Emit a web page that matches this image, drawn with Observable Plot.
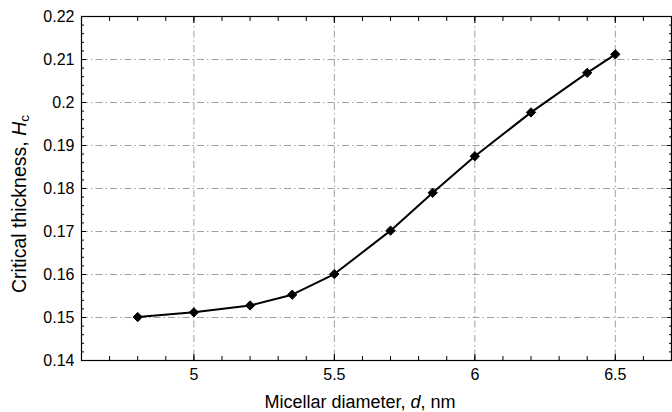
<!DOCTYPE html>
<html>
<head>
<meta charset="utf-8">
<script src="https://cdn.jsdelivr.net/npm/d3@7"></script>
<script src="https://cdn.jsdelivr.net/npm/@observablehq/plot@0.6"></script>
<style>
  html, body { margin: 0; padding: 0; background: #fff; }
  #chart svg { display: block; }
</style>
</head>
<body>
<div id="chart"></div>
<script>
const diameter = [4.8, 5.0, 5.2, 5.35, 5.5, 5.7, 5.85, 6.0, 6.2, 6.4, 6.5];
const thickness = [0.1501, 0.1512, 0.1528, 0.1553, 0.1601, 0.1702, 0.1790, 0.1875, 0.1977, 0.2069, 0.2112];
const xTicks = [5, 5.5, 6, 6.5];
const yTicks = [0.14, 0.15, 0.16, 0.17, 0.18, 0.19, 0.2, 0.21, 0.22];
const yTickLabels = ["0.14", "0.15", "0.16", "0.17", "0.18", "0.19", "0.2", "0.21", "0.22"];
const xMinor = d3.range(46, 68).map(v => v / 10);
const yMinor = d3.range(70, 111).map(v => v / 500);

const data = diameter.map((d, i) => ({d, h: thickness[i]}));
const font = "'Liberation Sans', Arial, sans-serif";
const gridDash = "7,3,1.5,3";

const plot = Plot.plot({
  width: 672,
  height: 412,
  marginLeft: 81,
  marginRight: 1,
  marginTop: 16,
  marginBottom: 52,
  style: {fontFamily: font, fontSize: "16px", color: "#000", background: "#fff"},
  x: {domain: [4.6, 6.7], label: null},
  y: {domain: [0.14, 0.22], label: null},
  marks: [
    Plot.ruleX(xTicks, {stroke: "#888", strokeWidth: 0.8, strokeDasharray: gridDash}),
    Plot.ruleY(yTicks.slice(1, -1), {stroke: "#888", strokeWidth: 0.8, strokeDasharray: gridDash}),
    Plot.axisX(xMinor, {anchor: "bottom", tickSize: -4, label: null, text: null, stroke: "#000"}),
    Plot.axisX(xMinor, {anchor: "top", tickSize: -4, label: null, text: null, stroke: "#000"}),
    Plot.axisY(yMinor, {anchor: "left", tickSize: -3, label: null, text: null, stroke: "#000"}),
    Plot.axisY(yMinor, {anchor: "right", tickSize: -3, label: null, text: null, stroke: "#000"}),
    Plot.axisX(xTicks, {anchor: "bottom", tickSize: -6, tickPadding: 14, label: null, tickFormat: d => String(d), fontSize: 16, stroke: "#000", fill: "#000"}),
    Plot.axisX(xTicks, {anchor: "top", tickSize: -6, label: null, text: null, stroke: "#000"}),
    Plot.axisY(yTicks, {anchor: "left", tickSize: -5, tickPadding: 12, label: null, tickFormat: (d, i) => yTickLabels[i], fontSize: 16, stroke: "#000", fill: "#000"}),
    Plot.axisY(yTicks, {anchor: "right", tickSize: -5, label: null, text: null, stroke: "#000"}),
    Plot.frame({stroke: "#000", strokeWidth: 1.2}),
    Plot.line(data, {x: "d", y: "h", stroke: "#000", strokeWidth: 2}),
    Plot.dot(data, {x: "d", y: "h", symbol: "diamond2", r: 4.2, fill: "#000", stroke: "#000", strokeWidth: 1})
  ]
});

document.getElementById("chart").appendChild(plot);

// axis titles with italic parts
const svg = d3.select(plot);
const xt = svg.append("text")
  .attr("x", 360).attr("y", 408)
  .attr("text-anchor", "middle")
  .attr("font-family", font).attr("font-size", 18).attr("fill", "#000");
xt.append("tspan").text("Micellar diameter, ");
xt.append("tspan").attr("font-style", "italic").text("d");
xt.append("tspan").text(", nm");

const yt = svg.append("text")
  .attr("transform", "translate(25.5,204) rotate(-90)")
  .attr("text-anchor", "middle")
  .attr("font-family", font).attr("font-size", 19.5).attr("fill", "#000");
yt.append("tspan").text("Critical thickness, ");
yt.append("tspan").attr("font-style", "italic").text("H");
yt.append("tspan").attr("font-size", 13.5).attr("dy", 3).text("c");
</script>
</body>
</html>
